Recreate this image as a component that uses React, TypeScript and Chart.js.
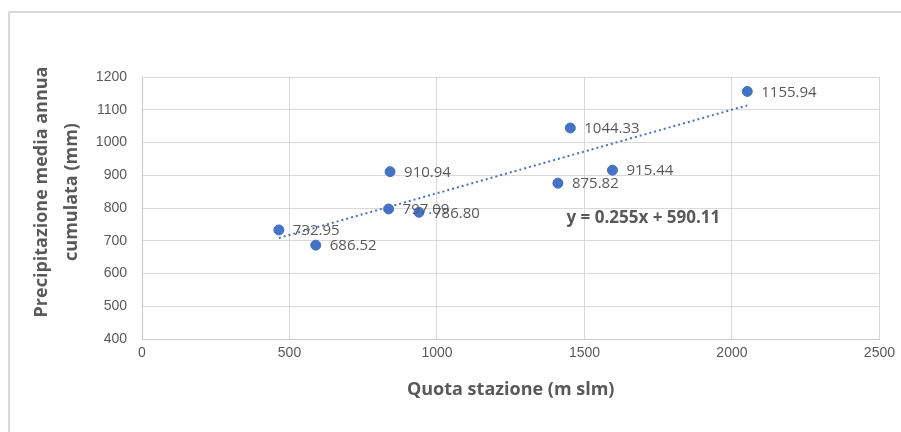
import React, { useEffect, useRef } from "react";
import { Chart, registerables } from "chart.js";

Chart.register(...registerables);

const stationAltitude = [464, 589, 841, 836, 939, 1410, 1452, 1595, 2052];
const precipitation = [732.95, 686.52, 910.94, 797.09, 786.8, 875.82, 1044.33, 915.44, 1155.94];
const pointLabels = ["732.95", "686.52", "910.94", "797.09", "786.80", "875.82", "1044.33", "915.44", "1155.94"];
const trendSlope = 0.255;
const trendIntercept = 590.11;
const equationText = "y = 0.255x + 590.11";
const equationAnchor = { x: 1439, y: 768 };
const xTitle = "Quota stazione (m slm)";
const yTitleLines = ["Precipitazione media annua", "cumulata (mm)"];

const BLUE = "#4472C4";
const GRAY_TEXT = "#595959";

export default function App() {
  const ref = useRef<HTMLCanvasElement | null>(null);

  useEffect(() => {
    document.body.style.margin = "0";
    const canvas = ref.current;
    if (!canvas) return;

    const xMin = Math.min(...stationAltitude);
    const xMax = Math.max(...stationAltitude);
    const trend = [
      { x: xMin, y: trendSlope * xMin + trendIntercept },
      { x: xMax, y: trendSlope * xMax + trendIntercept },
    ];

    const decor = {
      id: "decor",
      beforeDraw(chart: any) {
        const ctx = chart.ctx;
        ctx.save();
        ctx.fillStyle = "#ffffff";
        ctx.fillRect(0, 0, chart.width, chart.height);
        ctx.strokeStyle = "#d9d9d9";
        ctx.lineWidth = 2;
        ctx.beginPath();
        ctx.moveTo(9, chart.height + 2);
        ctx.lineTo(9, 12);
        ctx.lineTo(chart.width + 2, 12);
        ctx.stroke();
        ctx.restore();
      },
      afterDatasetsDraw(chart: any) {
        const ctx = chart.ctx;
        const meta = chart.getDatasetMeta(0);
        ctx.save();
        ctx.font = "15px 'Open Sans'";
        ctx.fillStyle = GRAY_TEXT;
        ctx.textBaseline = "middle";
        ctx.textAlign = "left";
        meta.data.forEach((pt: any, i: number) => {
          ctx.fillText(pointLabels[i], pt.x + 14, pt.y + 1);
        });
        const xs = chart.scales.x;
        const ys = chart.scales.y;
        ctx.font = "bold 17px 'Open Sans'";
        ctx.fillStyle = GRAY_TEXT;
        ctx.fillText(equationText, xs.getPixelForValue(equationAnchor.x), ys.getPixelForValue(equationAnchor.y));

        const area = chart.chartArea;
        ctx.font = "bold 18px 'Open Sans'";
        ctx.textAlign = "center";
        ctx.fillText(xTitle, (area.left + area.right) / 2, 390);

        ctx.translate(0, 192);
        ctx.rotate(-Math.PI / 2);
        ctx.textBaseline = "alphabetic";
        ctx.fillText(yTitleLines[0], 0, 47);
        ctx.fillText(yTitleLines[1], 0, 77);
        ctx.restore();
      },
    };

    const chart = new Chart(canvas, {
      type: "scatter",
      data: {
        datasets: [
          {
            label: "Precipitazione",
            data: stationAltitude.map((x, i) => ({ x, y: precipitation[i] })),
            backgroundColor: BLUE,
            borderColor: BLUE,
            pointRadius: 5,
            pointHoverRadius: 5,
            order: 1,
          },
          {
            label: "Trend",
            type: "line",
            data: trend,
            showLine: true,
            borderColor: BLUE,
            borderWidth: 2,
            borderDash: [2, 3],
            pointRadius: 0,
            fill: false,
            order: 2,
          } as any,
        ],
      },
      options: {
        responsive: false,
        animation: false,
        events: [],
        layout: { padding: { top: 77, right: 19, left: 0, bottom: 0 } },
        plugins: {
          legend: { display: false },
          tooltip: { enabled: false },
          title: { display: false },
        },
        scales: {
          x: {
            type: "linear",
            min: 0,
            max: 2500,
            ticks: {
              stepSize: 500,
              padding: 6,
              color: GRAY_TEXT,
              font: { family: "'Liberation Sans'", size: 14 },
              maxRotation: 0,
              callback: (v: any) => String(v),
            },
            grid: { color: "#d9d9d9", drawTicks: false },
            border: { color: "#c8c8c8" },
            afterFit(scale: any) {
              scale.height = 93;
            },
          },
          y: {
            type: "linear",
            min: 400,
            max: 1200,
            ticks: {
              stepSize: 100,
              padding: 15,
              color: GRAY_TEXT,
              font: { family: "'Liberation Sans'", size: 14 },
              callback: (v: any) => String(v),
            },
            grid: { color: "#d9d9d9", drawTicks: false },
            border: { color: "#c8c8c8" },
            afterFit(scale: any) {
              scale.width = 142;
            },
          },
        },
      },
      plugins: [decor],
    });

    return () => chart.destroy();
  }, []);

  return (
    <div style={{ width: 901, height: 432 }}>
      <canvas ref={ref} width={901} height={432} style={{ display: "block" }} />
    </div>
  );
}
